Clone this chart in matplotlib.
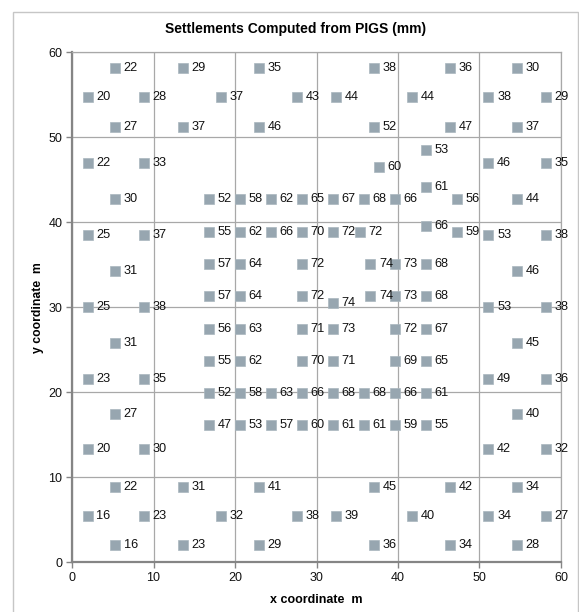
import matplotlib.pyplot as plt
from matplotlib.patches import Rectangle

plt.rcParams['font.family'] = ['Liberation Sans', 'DejaVu Sans']

# pile/grid point coordinates (m) and computed settlements (mm)
x_coords = [
    5.3, 13.6, 22.9, 37.1, 46.4, 54.6,
    1.9, 8.8, 18.3, 27.6, 32.4, 41.7, 51.1, 58.1,
    5.3, 13.6, 22.9, 37.1, 46.4, 54.6,
    43.4,
    1.9, 8.8, 51.1, 58.1,
    37.7,
    43.4,
    5.3, 16.85, 20.6, 24.4, 28.2, 32.0, 35.8, 39.6, 47.2, 54.6,
    43.4,
    16.85, 20.6, 24.4, 28.2, 32.0, 35.3, 47.2,
    1.9, 8.8, 51.1, 58.1,
    16.85, 20.6, 28.2, 36.6, 39.6, 43.4,
    5.3, 54.6,
    16.85, 20.6, 28.2, 36.6, 39.6, 43.4,
    32.0,
    1.9, 8.8, 51.1, 58.1,
    16.85, 20.6, 28.2, 32.0, 39.6, 43.4,
    5.3, 54.6,
    16.85, 20.6, 28.2, 32.0, 39.6, 43.4,
    1.9, 8.8, 51.1, 58.1,
    16.85, 20.6, 24.4, 28.2, 32.0, 35.8, 39.6, 43.4,
    5.3, 54.6,
    16.85, 20.6, 24.4, 28.2, 32.0, 35.8, 39.6, 43.4,
    1.9, 8.8, 51.1, 58.1,
    5.3, 13.6, 22.9, 37.1, 46.4, 54.6,
    1.9, 8.8, 18.3, 27.6, 32.4, 41.7, 51.1, 58.1,
    5.3, 13.6, 22.9, 37.1, 46.4, 54.6,
]
y_coords = (
    [58.2] * 6 + [54.7] * 8 + [51.2] * 6 + [48.5] + [47.0] * 4 + [46.5]
    + [44.1] + [42.7] * 10 + [39.6] + [38.9] * 7 + [38.5] * 4 + [35.1] * 6
    + [34.3] * 2 + [31.3] * 6 + [30.5] + [30.0] * 4 + [27.5] * 6 + [25.8] * 2
    + [23.7] * 6 + [21.6] * 4 + [19.9] * 8 + [17.4] * 2 + [16.15] * 8
    + [13.3] * 4 + [8.9] * 6 + [5.5] * 8 + [2.0] * 6
)
settlements = [
    22, 29, 35, 38, 36, 30,
    20, 28, 37, 43, 44, 44, 38, 29,
    27, 37, 46, 52, 47, 37,
    53,
    22, 33, 46, 35,
    60,
    61,
    30, 52, 58, 62, 65, 67, 68, 66, 56, 44,
    66,
    55, 62, 66, 70, 72, 72, 59,
    25, 37, 53, 38,
    57, 64, 72, 74, 73, 68,
    31, 46,
    57, 64, 72, 74, 73, 68,
    74,
    25, 38, 53, 38,
    56, 63, 71, 73, 72, 67,
    31, 45,
    55, 62, 70, 71, 69, 65,
    23, 35, 49, 36,
    52, 58, 63, 66, 68, 68, 66, 61,
    27, 40,
    47, 53, 57, 60, 61, 61, 59, 55,
    20, 30, 42, 32,
    22, 31, 41, 45, 42, 34,
    16, 23, 32, 38, 39, 40, 34, 27,
    16, 23, 29, 36, 34, 28,
]

fig = plt.figure(figsize=(5.79, 6.12), dpi=100)
ax = fig.add_axes([0.1244, 0.0812, 0.8445, 0.8333])

# chart area border
fig.patches.append(Rectangle((13 / 579, -0.01), 565 / 579, 1 - 12 / 612 + 0.01,
                             transform=fig.transFigure, fill=False,
                             edgecolor='#c6c6c6', lw=1.0))

ax.plot(x_coords, y_coords, 's', color='#97a6b0', markersize=7,
        markeredgecolor='#a9b6be', markeredgewidth=0.5, zorder=3)
for x, y, s in zip(x_coords, y_coords, settlements):
    ax.annotate(str(s), (x, y), xytext=(6.2, 0), textcoords='offset points',
                ha='left', va='center', fontsize=9.2, color='#111111', zorder=4)

ax.set_xlim(0, 60)
ax.set_ylim(0, 60)
ax.set_xticks(range(0, 61, 10))
ax.set_yticks(range(0, 61, 10))
ax.grid(True, color='#a8a8a8', lw=0.9)
ax.set_axisbelow(True)

for side in ['top', 'right']:
    ax.spines[side].set_color('#a8a8a8')
    ax.spines[side].set_linewidth(0.9)
for side in ['left', 'bottom']:
    ax.spines[side].set_color('#858585')
    ax.spines[side].set_linewidth(1.6)
ax.tick_params(length=4, width=1, color='#858585', labelsize=9, pad=3,
               labelcolor='#111111')

# title is centred over the whole chart area, not the plot box
fig.text(296 / 579, 1 - 29 / 612, 'Settlements Computed from PIGS (mm)',
         ha='center', va='center', fontsize=10, fontweight='bold')
ax.set_xlabel('x coordinate  m', fontsize=9, fontweight='bold', labelpad=7)
ax.set_ylabel('y coordinate  m', fontsize=8.8, fontweight='bold', labelpad=3)

fig.savefig('out.png', dpi=100)
